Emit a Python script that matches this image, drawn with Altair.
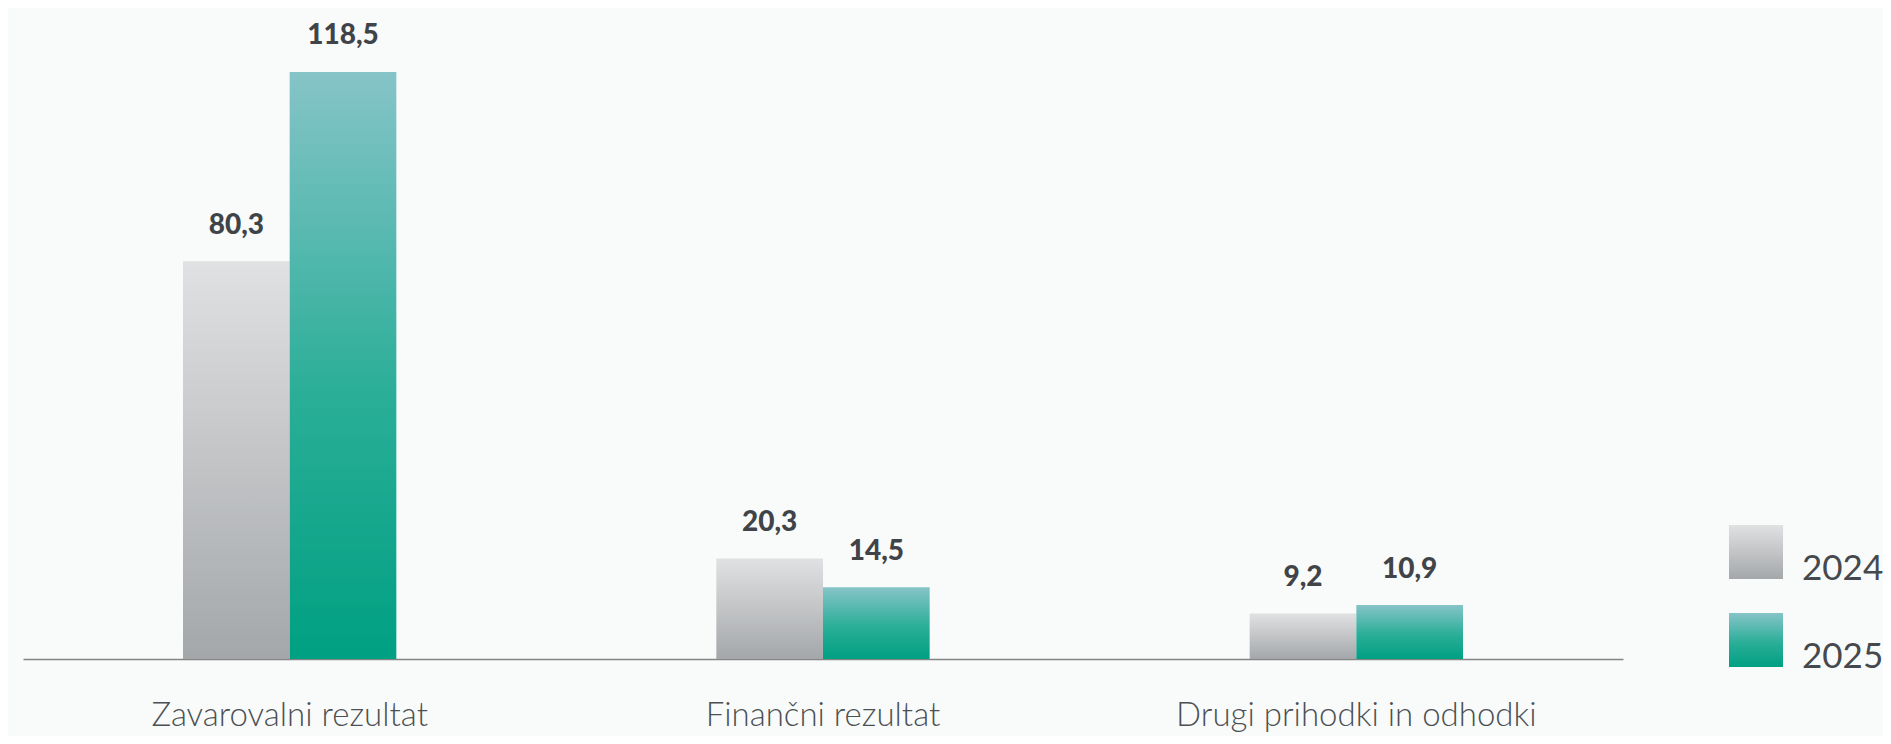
import altair as alt
import pandas as pd

categories = ["Zavarovalni rezultat", "Finančni rezultat", "Drugi prihodki in odhodki"]
years = ["2024", "2025"]
values_2024 = [80.3, 20.3, 9.2]
values_2025 = [118.5, 14.5, 10.9]

rows = []
for c, a, b in zip(categories, values_2024, values_2025):
    rows.append({"cat": c, "year": "2024", "value": a, "label": f"{a:.1f}".replace(".", ",")})
    rows.append({"cat": c, "year": "2025", "value": b, "label": f"{b:.1f}".replace(".", ",")})
df = pd.DataFrame(rows)

grad_2024 = ("{gradient:'linear',x1:0,y1:0,x2:0,y2:1,stops:["
             "{offset:0,color:'#e0e1e2'},{offset:1,color:'#a4a7aa'}]}")
grad_2025 = ("{gradient:'linear',x1:0,y1:0,x2:0,y2:1,stops:["
             "{offset:0,color:'#86c4c8'},{offset:0.55,color:'#2aae98'},{offset:1,color:'#00a082'}]}")

x_enc = alt.X(
    "cat:N", sort=categories, title=None,
    scale=alt.Scale(paddingInner=0.6, paddingOuter=0.3),
    axis=alt.Axis(
        labelAngle=0, ticks=False, labelPadding=66, labelBaseline="alphabetic", labelLimit=0,
        labelFont="Lato", labelFontWeight=300, labelFontSize=33, labelColor="#4b5054",
        domainColor="#858585", domainWidth=1.6, grid=False,
    ),
)
xoff = alt.XOffset("year:N", sort=years, scale=alt.Scale(paddingInner=0, paddingOuter=0))
y_enc = alt.Y("value:Q", axis=None, scale=alt.Scale(domain=[0, 130], nice=False))

bars = alt.Chart(df).mark_bar().encode(
    x=x_enc, xOffset=xoff, y=y_enc,
    color=alt.Color(
        "year:N", sort=years,
        scale=alt.Scale(domain=years, range=[{"expr": grad_2024}, {"expr": grad_2025}]),
        legend=alt.Legend(
            title=None, orient="none", legendX=1706, legendY=510, padding=0,
            symbolType="square", symbolSize=2916, symbolStrokeWidth=0, rowPadding=26,
            labelFont="Lato", labelFontSize=35, labelFontWeight=400, labelColor="#45494d",
            labelBaseline="top", labelOffset=19, labelLimit=0,
        ),
    ),
)

text = alt.Chart(df).mark_text(
    baseline="alphabetic", dy=-27.5, font="Lato", fontWeight=900, fontSize=28, color="#404448"
).encode(x=x_enc, xOffset=xoff, y=y_enc, text="label:N")

chart = (bars + text).properties(
    width=1600, height=644,
    padding={"left": 15, "top": 7, "right": 260, "bottom": 77},
    autosize=alt.AutoSizeParams(type="none"),
    background="#f9fbfa",
).configure_view(strokeWidth=0)

chart.save("out.html", embed_options={"renderer": "svg", "actions": False})
